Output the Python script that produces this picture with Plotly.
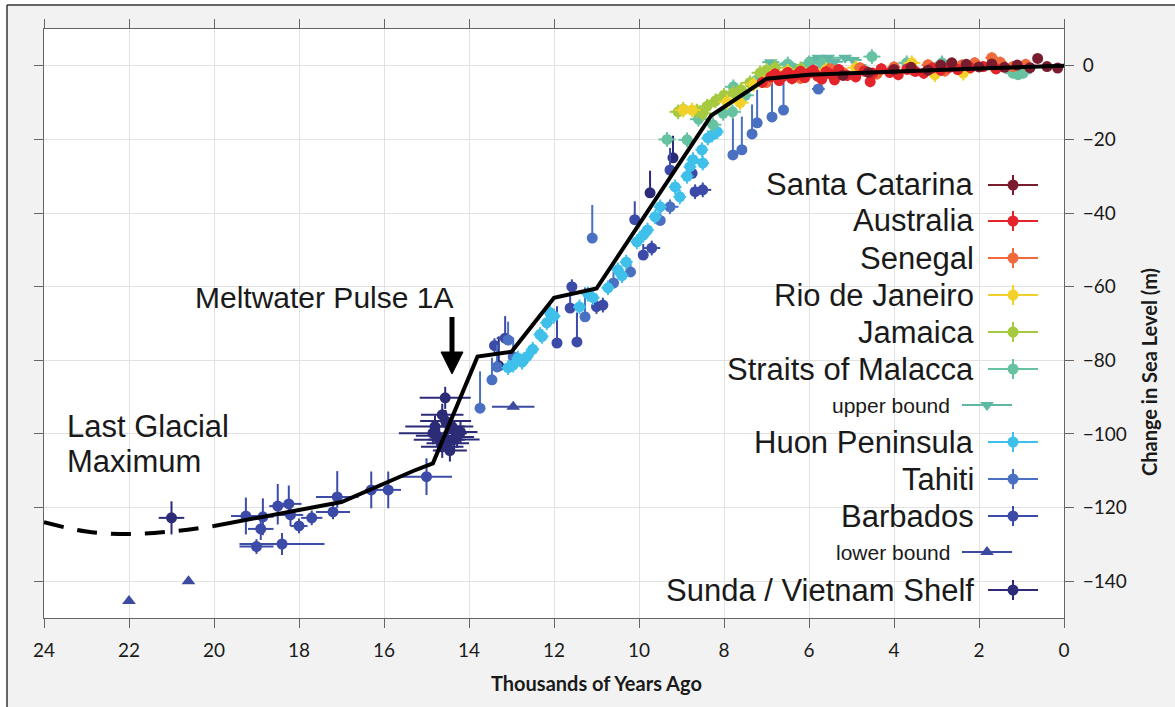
import plotly.graph_objects as go

# ---------------- data ----------------
# each point: (age [ka], sea level [m], age error, level error up, level error down)
santa_catarina = [(5.2, -2.6, 0.1, 1, 1), (4.6, -1.8, 0.1, 1, 1), (4.0, -1.0, 0.1, 1, 1), (3.6, -0.4, 0.1, 1, 1),
                  (3.2, -1.2, 0.1, 1, 1), (2.9, 0.2, 0.1, 1, 1), (2.64, 0.8, 0.1, 1, 1), (2.3, 0.4, 0.1, 1, 1),
                  (2.0, -0.3, 0.1, 1, 1), (1.7, 0.5, 0.1, 1, 1), (1.4, -0.4, 0.1, 1, 1), (1.1, 0.2, 0.1, 1, 1),
                  (0.8, -0.5, 0.1, 1, 1), (0.62, 2.0, 0.1, 1, 1), (0.4, -0.2, 0.1, 1, 1), (0.15, -0.6, 0.1, 1, 1)]
australia = [(7.1, -4.5, 0.1, 1.5, 1.5), (6.9, -3.0, 0.1, 1.5, 1.5), (6.8, -2.2, 0.1, 1.5, 1.5), (6.7, -4.0, 0.1, 1.5, 1.5),
             (6.6, -2.8, 0.1, 1.5, 1.5), (6.5, -1.8, 0.1, 1.5, 1.5), (6.4, -3.5, 0.1, 1.5, 1.5), (6.3, -2.5, 0.1, 1.5, 1.5),
             (6.2, -1.5, 0.1, 1.5, 1.5), (6.1, -3.2, 0.1, 1.5, 1.5), (6.0, -2.0, 0.1, 1.5, 1.5), (5.9, -1.2, 0.1, 1.5, 1.5),
             (5.8, -2.8, 0.1, 1.5, 1.5), (5.7, -3.6, 0.1, 1.5, 1.5), (5.6, -1.6, 0.1, 1.5, 1.5), (5.5, -2.2, 0.1, 1.5, 1.5),
             (5.3, -1.0, 0.1, 1.5, 1.5), (5.1, -2.6, 0.1, 1.5, 1.5), (4.9, -3.0, 0.1, 1.5, 1.5), (4.7, -1.4, 0.1, 1.5, 1.5),
             (4.56, -4.3, 0.1, 1.5, 1.5), (4.5, -2.0, 0.1, 1.5, 1.5), (4.3, -0.8, 0.1, 1.5, 1.5), (4.1, -1.8, 0.1, 1.5, 1.5),
             (3.9, -2.4, 0.1, 1.5, 1.5), (3.7, -0.9, 0.1, 1.5, 1.5), (3.5, -1.5, 0.1, 1.5, 1.5), (3.3, -2.0, 0.1, 1.5, 1.5),
             (3.1, -0.6, 0.1, 1.5, 1.5), (2.9, -1.2, 0.1, 1.5, 1.5), (2.7, -0.4, 0.1, 1.5, 1.5), (2.5, -1.0, 0.1, 1.5, 1.5),
             (2.2, -0.5, 0.1, 1.5, 1.5), (1.9, -0.2, 0.1, 1.5, 1.5), (1.6, -0.8, 0.1, 1.5, 1.5), (5.4, -3.8, 0.1, 1.5, 1.5)]
senegal = [(7.0, -4.5, 0.15, 1.5, 1.5), (6.5, -2.0, 0.15, 1.5, 1.5), (6.2, -3.4, 0.15, 1.5, 1.5), (5.9, -1.5, 0.15, 1.5, 1.5),
           (5.5, -0.8, 0.15, 1.5, 1.5), (5.2, -1.8, 0.15, 1.5, 1.5), (4.8, -0.5, 0.15, 1.5, 1.5), (4.4, -2.2, 0.15, 1.5, 1.5),
           (4.0, -0.3, 0.15, 1.5, 1.5), (3.6, -1.0, 0.15, 1.5, 1.5), (3.2, 0.3, 0.15, 1.5, 1.5), (2.8, -1.4, 0.15, 1.5, 1.5),
           (2.4, 0.2, 0.15, 1.5, 1.5), (2.1, 0.8, 0.15, 1.5, 1.5), (1.7, 2.2, 0.15, 1.5, 1.5), (1.5, 1.0, 0.15, 1.5, 1.5),
           (1.2, -0.2, 0.15, 1.5, 1.5), (0.9, 0.4, 0.15, 1.5, 1.5)]
rio_de_janeiro = [(8.96, -12.0, 0.2, 2, 2), (8.75, -12.0, 0.2, 2, 2), (7.93, -9.8, 0.2, 2, 2), (7.62, -10.0, 0.2, 2, 2),
                  (7.3, -5.0, 0.2, 2, 2), (6.9, -3.0, 0.2, 2, 2), (6.5, -1.5, 0.2, 2, 2), (5.6, -1.0, 0.2, 2, 2),
                  (4.9, -0.5, 0.2, 2, 2), (3.58, 0.8, 0.2, 2, 2), (3.04, -2.4, 0.2, 2, 2), (2.37, -2.0, 0.2, 2, 2),
                  (1.7, 0.2, 0.2, 2, 2)]
jamaica = [(9.08, -12.5, 0.2, 2, 2), (8.96, -11.8, 0.2, 2, 2), (8.64, -12.3, 0.2, 2, 2), (8.5, -12.9, 0.2, 2, 2),
           (8.4, -11.0, 0.2, 2, 2), (8.2, -9.5, 0.2, 2, 2), (8.0, -8.0, 0.2, 2, 2), (7.78, -7.3, 0.2, 2, 2),
           (7.6, -6.5, 0.2, 2, 2), (7.39, -4.6, 0.2, 2, 2), (7.15, -1.9, 0.2, 2, 2), (7.0, -1.2, 0.2, 2, 2),
           (6.8, -0.5, 0.2, 2, 2), (6.5, -1.5, 0.2, 2, 2), (6.2, -0.8, 0.2, 2, 2)]
straits_of_malacca = [(9.34, -20.0, 0.2, 2, 2), (8.87, -20.1, 0.2, 2, 2), (8.6, -14.5, 0.2, 2, 2), (8.26, -16.0, 0.2, 2, 2),
                      (8.02, -12.9, 0.2, 2, 2), (7.8, -12.5, 0.2, 2, 2), (7.78, -5.7, 0.2, 2, 2), (7.5, -8.0, 0.2, 2, 2),
                      (7.25, -4.0, 0.2, 2, 2), (6.9, -2.0, 0.2, 2, 2), (6.5, 0.5, 0.2, 2, 2), (6.0, 0.8, 0.2, 2, 2),
                      (5.7, 0.6, 0.2, 2, 2), (4.52, 2.5, 0.2, 2, 2), (3.7, 0.8, 0.2, 2, 2), (2.87, 0.8, 0.2, 2, 2),
                      (1.2, -2.0, 0.2, 1, 1), (1.08, -2.4, 0.2, 1, 1), (0.96, -2.0, 0.2, 1, 1)]
upper_bound = [(6.9, 1.0, 0.2, 0, 0), (6.5, 0.3, 0.2, 0, 0), (6.37, -0.3, 0.2, 0, 0), (5.9, 1.6, 0.2, 0, 0),
               (5.78, 2.2, 0.2, 0, 0), (5.55, 2.2, 0.2, 0, 0), (5.4, 1.1, 0.2, 0, 0), (5.15, 2.2, 0.2, 0, 0),
               (4.96, 1.6, 0.2, 0, 0), (4.8, -0.3, 0.2, 0, 0)]
huon_peninsula = [(13.08, -82.0, 0.15, 2, 2), (12.96, -81.3, 0.15, 2, 2), (12.85, -79.4, 0.15, 2, 2), (12.75, -80.5, 0.15, 2, 2),
                  (12.64, -79.0, 0.15, 2, 2), (12.5, -77.0, 0.15, 2, 2), (12.33, -73.0, 0.15, 2, 2), (12.28, -73.5, 0.15, 2, 2),
                  (12.17, -69.8, 0.15, 2, 2), (12.1, -67.0, 0.15, 2, 2), (12.0, -68.0, 0.15, 2, 2), (11.4, -65.5, 0.15, 2, 2),
                  (11.2, -62.0, 0.15, 2, 2), (11.08, -63.0, 0.15, 2, 2), (10.73, -60.3, 0.15, 2, 2), (10.5, -55.4, 0.15, 2, 2),
                  (10.4, -57.0, 0.15, 2, 2), (10.3, -53.3, 0.15, 2, 2), (10.05, -47.8, 0.15, 2, 2), (9.9, -46.0, 0.15, 2, 2),
                  (9.8, -44.6, 0.15, 2, 2), (9.62, -41.0, 0.15, 2, 2), (9.5, -38.3, 0.15, 2, 2), (9.15, -32.9, 0.15, 2, 2),
                  (9.04, -35.6, 0.15, 2, 2), (8.87, -30.0, 0.15, 2, 2), (8.8, -27.4, 0.15, 2, 2), (8.73, -25.5, 0.15, 2, 2),
                  (8.52, -22.8, 0.15, 2, 2), (8.5, -26.4, 0.15, 2, 2), (8.38, -19.6, 0.15, 2, 2), (8.28, -18.8, 0.15, 2, 2),
                  (8.16, -17.9, 0.15, 2, 2)]
tahiti = [(13.74, -93.0, 0.1, 10, 1), (13.46, -85.3, 0.1, 6, 1), (13.34, -81.8, 0.1, 6, 1), (13.08, -74.5, 0.1, 5, 1),
          (12.96, -79.0, 0.1, 5, 1), (11.27, -68.2, 0.1, 8, 1), (11.1, -46.8, 0.05, 9, 0.5), (10.6, -59.0, 0.1, 3, 1),
          (10.2, -56.0, 0.1, 3, 1), (9.5, -42.0, 0.1, 3, 1), (9.27, -38.3, 0.2, 2, 2), (7.79, -24.2, 0.1, 10, 0.5),
          (7.58, -22.8, 0.1, 9, 0.5), (7.34, -18.5, 0.1, 8, 0.5), (7.22, -15.5, 0.1, 9, 0.5), (6.87, -13.9, 0.1, 11, 0.5),
          (6.6, -12.0, 0.1, 10, 0.5), (5.78, -6.3, 0.15, 1, 1)]
barbados = [(19.25, -122.3, 0.35, 5, 5), (18.85, -122.5, 0.25, 5, 5), (18.9, -125.8, 0.3, 3, 3), (19.0, -130.6, 0.4, 2, 2),
            (18.5, -119.6, 0.2, 6, 5), (18.4, -129.9, 1.0, 3, 3), (18.24, -119.0, 0.3, 5, 3), (18.2, -122.0, 0.3, 3, 3),
            (18.0, -125.0, 0.2, 2, 2), (17.7, -122.8, 0.25, 2, 2), (17.2, -121.2, 0.4, 2, 2), (17.1, -117.1, 0.5, 7, 3),
            (16.3, -115.2, 0.15, 5, 5), (15.9, -115.2, 0.3, 5, 5), (15.0, -111.6, 0.6, 5, 5), (13.4, -76.0, 0.1, 2, 2),
            (13.15, -74.0, 0.2, 6, 1), (11.93, -75.3, 0.1, 10, 1), (11.62, -65.8, 0.1, 6, 1), (11.58, -60.0, 0.1, 2, 2),
            (11.46, -75.0, 0.1, 8, 1), (11.0, -65.4, 0.1, 2, 2), (10.85, -65.0, 0.1, 2, 2), (10.1, -41.8, 0.1, 5, 1),
            (9.9, -51.4, 0.1, 3, 1), (9.7, -49.5, 0.2, 2, 2), (9.27, -28.3, 0.1, 6, 1), (8.75, -29.2, 0.1, 3, 1),
            (8.68, -34.2, 0.1, 2, 2), (8.5, -33.7, 0.2, 2, 2)]
lower_bound = [(22.0, -145.4, 0.0, 0, 0), (20.6, -140.0, 0.0, 0, 0), (12.96, -92.6, 0.5, 0, 0)]
sunda_vietnam = [(21.0, -122.8, 0.3, 4.5, 4.5), (14.56, -90.2, 0.6, 3, 3), (14.63, -94.8, 0.5, 3, 3), (14.85, -99.8, 0.8, 3, 3),
                 (14.7, -101.6, 0.6, 3, 3), (14.5, -102.5, 0.5, 3, 3), (14.28, -100.8, 0.4, 3, 3), (14.4, -98.0, 0.5, 3, 3),
                 (14.2, -99.5, 0.4, 3, 3), (14.63, -103.5, 0.5, 3, 3), (14.8, -98.0, 0.7, 3, 3), (14.55, -96.5, 0.6, 3, 3),
                 (14.45, -104.5, 0.4, 3, 3), (14.35, -101.5, 0.6, 3, 3), (14.75, -100.5, 0.5, 3, 3), (13.3, -81.5, 0.1, 8, 1),
                 (9.74, -34.5, 0.1, 6, 1), (9.2, -25.0, 0.1, 6, 1)]

# best-fit sea-level curve
trend_x = [20, 18.2, 17.0, 15.3, 14.85, 13.8, 13.0, 12.0, 11.0, 8.3, 7.0, 6.0, 4.0, 2.0, 0]
trend_y = [-125, -121, -118.5, -110, -108, -79, -77.7, -63, -60.5, -13.5, -3.5, -2.4, -1.5, -0.7, 0]
lgm_x = [24, 23, 22, 21, 20]
lgm_y = [-124, -126.5, -127.2, -126.5, -125]

x_ticks = [24, 22, 20, 18, 16, 14, 12, 10, 8, 6, 4, 2, 0]
y_ticks = [-140, -120, -100, -80, -60, -40, -20, 0]

# (legend label, data, colour, symbol, small label)
series = [
    ("Santa Catarina", santa_catarina, "#7b1c2e", "circle", False),
    ("Australia", australia, "#e4242a", "circle", False),
    ("Senegal", senegal, "#f06a3c", "circle", False),
    ("Rio de Janeiro", rio_de_janeiro, "#f2d22a", "circle", False),
    ("Jamaica", jamaica, "#a5c93f", "circle", False),
    ("Straits of Malacca", straits_of_malacca, "#66c2a0", "circle", False),
    ("upper bound", upper_bound, "#5fb8a3", "triangle-down", True),
    ("Huon Peninsula", huon_peninsula, "#3fc0ea", "circle", False),
    ("Tahiti", tahiti, "#4a70c2", "circle", False),
    ("Barbados", barbados, "#3c4ba8", "circle", False),
    ("lower bound", lower_bound, "#3c4ba0", "triangle-up", True),
    ("Sunda / Vietnam Shelf", sunda_vietnam, "#2b2b78", "circle", False),
]

# ---------------- geometry helpers (pixels -> paper) ----------------
L, R, T, B, W, H = 44, 111, 29, 89, 1175, 707
PW, PH = W - L - R, H - T - B


def px_x(p):
    return (p - L) / PW


def px_y(p):
    return (H - B - p) / PH


fig = go.Figure()

# data traces (drawn bottom-most first)
for name, pts, col, sym, small in reversed(series):
    fig.add_trace(go.Scatter(
        x=[p[0] for p in pts], y=[p[1] for p in pts], mode="markers", name=name, showlegend=False,
        marker=dict(color=col, size=11 if sym == "circle" else 12, symbol=sym, line=dict(width=0)),
        error_x=dict(type="data", array=[p[2] for p in pts], color=col, thickness=2, width=0),
        error_y=dict(type="data", symmetric=False, array=[p[3] for p in pts],
                     arrayminus=[p[4] for p in pts], color=col, thickness=2, width=0),
    ))

fig.add_trace(go.Scatter(x=lgm_x, y=lgm_y, mode="lines", showlegend=False,
                         line=dict(color="black", width=4, dash="20px,14px", shape="spline")))
fig.add_trace(go.Scatter(x=trend_x, y=trend_y, mode="lines", showlegend=False,
                         line=dict(color="black", width=4)))

# custom legend (right-aligned text, glyph to the right)
row_y = [185, 221, 258, 295, 332, 369, 405, 442, 479, 516, 552, 590]
annotations = []
for (name, pts, col, sym, small), ry in zip(series, row_y):
    kx = 987 if small else 1013
    tx = 952 if small else 976
    fig.add_trace(go.Scatter(
        x=[px_x(kx)], y=[px_y(ry)], xaxis="x2", yaxis="y2", mode="markers", showlegend=False,
        marker=dict(color=col, size=11 if sym == "circle" else 12, symbol=sym),
        error_x=dict(type="constant", value=25 / PW, color=col, thickness=2, width=0),
        error_y=dict(type="constant", value=(0 if small else 10) / PH, color=col, thickness=2, width=0),
    ))
    annotations.append(dict(xref="paper", yref="paper", x=px_x(tx), y=px_y(ry), text=name,
                            xanchor="right", yanchor="middle", showarrow=False,
                            font=dict(family="Liberation Sans, Arial, sans-serif",
                                      size=21 if small else 31, color="#1a1a1a")))

annotations += [
    dict(xref="paper", yref="paper", x=px_x(65), y=px_y(427), text="Last Glacial", xanchor="left",
         yanchor="middle", showarrow=False, font=dict(family="Liberation Sans, Arial", size=31, color="#1a1a1a")),
    dict(xref="paper", yref="paper", x=px_x(65), y=px_y(461), text="Maximum", xanchor="left",
         yanchor="middle", showarrow=False, font=dict(family="Liberation Sans, Arial", size=31, color="#1a1a1a")),
    dict(xref="paper", yref="paper", x=px_x(193), y=px_y(297), text="Meltwater Pulse 1A", xanchor="left",
         yanchor="middle", showarrow=False, font=dict(family="Liberation Sans, Arial", size=30, color="#1a1a1a")),
    dict(xref="paper", yref="paper", x=px_x(596), y=px_y(683), text="<b>Thousands of Years Ago</b>",
         showarrow=False, xanchor="center", yanchor="middle",
         font=dict(family="Lato, sans-serif", size=20, color="#1a1a1a")),
    dict(xref="paper", yref="paper", x=px_x(1149), y=px_y(372), text="<b>Change in Sea Level (m)</b>",
         showarrow=False, textangle=-90, xanchor="center", yanchor="middle",
         font=dict(family="Lato, sans-serif", size=20, color="#1a1a1a")),
]

shapes = [
    # arrow for Meltwater Pulse 1A
    dict(type="line", xref="paper", yref="paper", x0=px_x(452), x1=px_x(452), y0=px_y(317), y1=px_y(355),
         line=dict(color="black", width=5)),
    dict(type="path", xref="paper", yref="paper",
         path=f"M {px_x(441)} {px_y(352)} L {px_x(463)} {px_y(352)} L {px_x(452)} {px_y(374)} Z",
         fillcolor="black", line=dict(color="black", width=1)),
    # white margins outside the framed panel
    dict(type="rect", xref="paper", yref="paper", x0=px_x(0), x1=px_x(7), y0=px_y(707), y1=px_y(0),
         fillcolor="white", line=dict(width=0)),
    dict(type="rect", xref="paper", yref="paper", x0=px_x(0), x1=px_x(1175), y0=px_y(5), y1=px_y(0),
         fillcolor="white", line=dict(width=0)),
    dict(type="line", xref="paper", yref="paper", x0=px_x(7), x1=px_x(7), y0=px_y(5), y1=px_y(707),
         line=dict(color="#333", width=1.5)),
    dict(type="line", xref="paper", yref="paper", x0=px_x(7), x1=px_x(1175), y0=px_y(5), y1=px_y(5),
         line=dict(color="#333", width=1.5)),
]

axis_common = dict(showline=True, linecolor="#666", linewidth=1, mirror="ticks", ticks="outside",
                   ticklen=9, tickcolor="#666", tickwidth=1, showgrid=True, gridcolor="#e2e2e2",
                   gridwidth=1, zeroline=False,
                   tickfont=dict(family="Lato, sans-serif", size=19, color="#1a1a1a"))

fig.update_layout(
    width=W, height=H, margin=dict(l=L, r=R, t=T, b=B),
    paper_bgcolor="#f2f2f2", plot_bgcolor="white",
    xaxis=dict(range=[24, 0], tickvals=x_ticks, ticklabelstandoff=6, **axis_common),
    yaxis=dict(range=[-150, 10], tickvals=y_ticks, side="right", ticklabelstandoff=5, **axis_common),
    xaxis2=dict(overlaying="x", range=[0, 1], visible=False, anchor="y2"),
    yaxis2=dict(overlaying="y", range=[0, 1], visible=False, anchor="x2"),
    annotations=annotations, shapes=shapes, showlegend=False,
)

fig.write_html("out.html")
